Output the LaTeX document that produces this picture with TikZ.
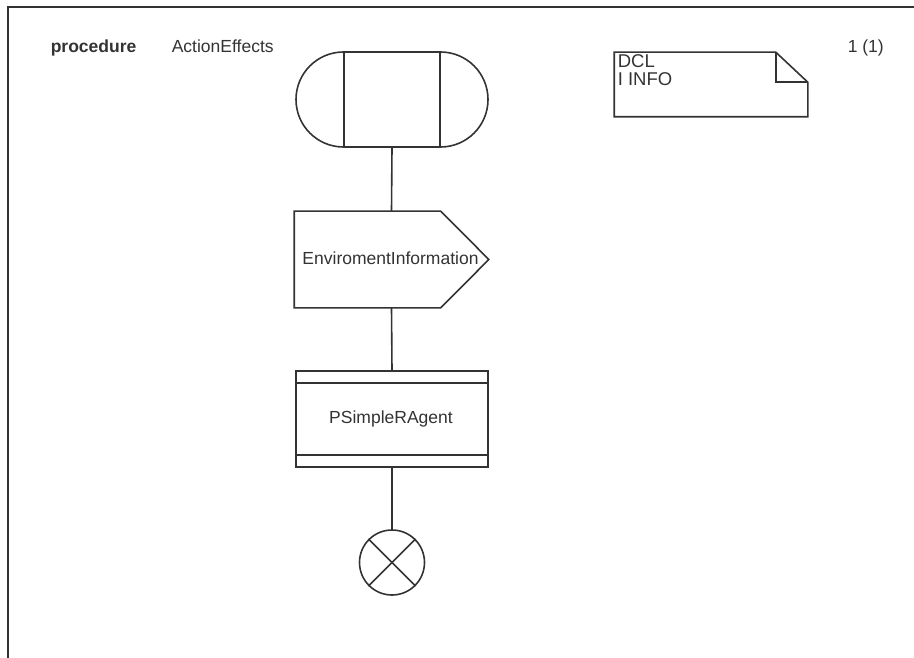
\documentclass[tikz,border=0pt]{standalone}
\usepackage{fontspec}
\setmainfont{Liberation Sans}
\usetikzlibrary{shapes.misc}
\definecolor{ink}{HTML}{333333}
\begin{document}
\begin{tikzpicture}[x=1pt,y=1pt,
  line width=1.6pt, draw=ink,
  every node/.style={font=\fontsize{17.5}{19}\selectfont, text=ink},
  sym/.style={line width=1.6pt, draw=ink},
  frameline/.style={line width=2pt, draw=ink},
  hidden/.style={rectangle, draw=none, inner sep=0pt},
  label/.style={anchor=base west, inner sep=0pt}]
\useasboundingbox (0,0) rectangle (914,-658);
% page frame
\draw[frameline] (8,-658) -- (8,-7) -- (914,-7);
% heading
\node[label, font=\fontsize{17.5}{19}\selectfont\bfseries] (kind) at (50,-53) {procedure};
\node[label] (pname) at (171,-53) {ActionEffects};
\node[label] (page) at (847,-53) {1 (1)};
% procedure start
\node[sym, rounded rectangle, minimum width=192, minimum height=95, inner sep=0pt] (start) at (392,-99.5) {};
\draw[sym] ([xshift=-48]start.north) -- ([xshift=-48]start.south)
           ([xshift=48]start.north) -- ([xshift=48]start.south);
% output signal
\node[hidden, minimum width=193, minimum height=95] (out) at (391.5,-259.5) {};
\draw[sym] (out.north west) -- ([xshift=-48]out.north east) -- (out.east)
           -- ([xshift=-48]out.south east) -- (out.south west) -- cycle;
\node[inner sep=0pt, anchor=base] (outtext) at (390.5,-265) {EnviromentInformation};
% procedure call
\node[sym, rectangle, minimum width=192, minimum height=96, inner sep=0pt] (call) at (392,-419) {};
\draw[sym] ([yshift=-13]call.north west) -- ([yshift=-13]call.north east)
           ([yshift=13]call.south west) -- ([yshift=13]call.south east);
\node[inner sep=0pt, anchor=base] (calltext) at (391,-423) {PSimpleRAgent};
% return
\node[sym, circle, minimum size=65, inner sep=0pt] (stop) at (392,-562.5) {};
\draw[sym] (stop.north west) -- (stop.south east)
           (stop.north east) -- (stop.south west);
% connectors
\draw[sym] (start.south) -- (out.north);
\draw[sym] (out.south) -- (call.north);
\draw[sym] (call.south) -- (stop.north);
% declaration note
\node[hidden, minimum width=192, minimum height=63] (note) at (711,-84.5) {};
\draw[sym] (note.north west) -- ([xshift=-32]note.north east) -- ([yshift=-30]note.north east)
           -- (note.south east) -- (note.south west) -- cycle;
\draw[sym] ([xshift=-32]note.north east) -- ([xshift=-32,yshift=-30]note.north east)
           -- ([yshift=-30]note.north east);
\node[label, font=\fontsize{18.5}{18}\selectfont] (dcl) at (617,-68) {DCL};
\node[label, font=\fontsize{18.5}{18}\selectfont] (info) at (617,-86) {I INFO};
\end{tikzpicture}
\end{document}
